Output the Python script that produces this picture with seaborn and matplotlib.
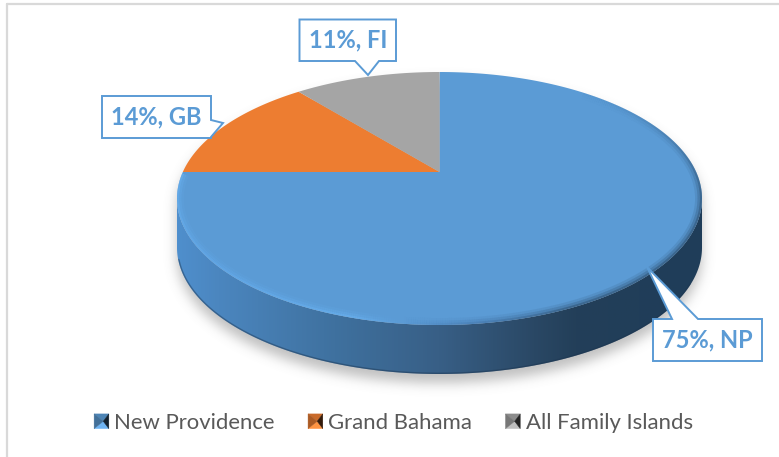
import numpy as np
import matplotlib
matplotlib.use('Agg')
import matplotlib.pyplot as plt
import seaborn as sns
from matplotlib.collections import LineCollection
from matplotlib.colors import LinearSegmentedColormap, to_rgb
from matplotlib.legend_handler import HandlerPatch
from matplotlib.patches import Patch, Polygon
from matplotlib.path import Path
from matplotlib.transforms import Affine2D, Transform

# data
regions = ['New Providence', 'Grand Bahama', 'All Family Islands']
shares = [75, 14, 11]
callouts = ['75%, NP', '14%, GB', '11%, FI']
slice_colors = ['#5b9bd5', '#ed7d31', '#a5a5a5']

sns.set_theme(style='white')
plt.rcParams['font.family'] = ['Lato', 'DejaVu Sans']

# disc geometry in pixels (y down)
CX, CY, RX, RY = 439.5, 198.5, 262.5, 126.5
APEX_Y = 172.0
DEPTH = 49.0


class TiltTransform(Transform):
    # projective map of the unit circle onto the tilted top face
    input_dims = output_dims = 2

    def transform_non_affine(self, values):
        v = np.asarray(values, dtype=float)
        top, bottom = CY - RY, CY + RY
        q = bottom - APEX_Y
        a = 1 - 2 * q / (bottom - top)
        k = RX * np.sqrt(1 - a ** 2)
        d = 1 - a * v[:, 1]
        return np.column_stack([CX + k * v[:, 0] / d, bottom - q * (1 + v[:, 1]) / d])

    def transform_path_non_affine(self, path):
        # flatten the bezier arcs first, control points do not survive this map
        big = path.transformed(Affine2D().scale(2000))
        poly = big.to_polygons(closed_only=False)[0] / 2000
        return Path(self.transform_non_affine(poly), closed=False)


def ellipse_arc(t0, t1, dy=0.0, n=300):
    t = np.linspace(t0, t1, n)
    return np.column_stack([CX + RX * np.cos(t), CY + dy + RY * np.sin(t)])


class PyramidHandler(HandlerPatch):
    # bevelled legend square, four shaded triangles
    def create_artists(self, legend, orig, xd, yd, w, h, fs, trans):
        col = np.array(to_rgb(orig.get_facecolor()))
        s = 10.6
        x0, y0 = -xd + (w - s) / 2, -yd + (h - s) / 2
        c = (x0 + s * 0.62, y0 + s / 2)
        a, b, d, e = (x0, y0), (x0 + s, y0), (x0 + s, y0 + s), (x0, y0 + s)
        parts = [((a, b, c), col * 1.08 + 0.05), ((e, d, c), col * 0.85),
                 ((a, e, c), col * 0.72), ((b, d, c), col * 0.22)]
        artists = []
        for p, f in parts:
            f = np.clip(f, 0, 1)
            artists.append(Polygon(p, closed=True, fc=f, ec=f, lw=0.3, transform=trans))
        return artists


fig = plt.figure(figsize=(7.79, 4.57), dpi=100)
ax = fig.add_axes([0, 0, 1, 1])

# soft shadow under the disc, a blurred mask of the silhouette
gx, gy = np.meshgrid(np.arange(779) + 0.5, np.arange(457) + 0.5)
shadow_y = gy - 9
ex = ((gx - CX) / RX) ** 2
inside = (ex + ((shadow_y - CY) / RY) ** 2 <= 1) | (ex + ((shadow_y - CY - DEPTH) / RY) ** 2 <= 1)
inside |= (np.abs(gx - CX) <= RX) & (shadow_y >= CY) & (shadow_y <= CY + DEPTH)
kernel = np.exp(-0.5 * (np.arange(-18, 19) / 6.0) ** 2)
kernel /= kernel.sum()
blur = inside.astype(float)
blur = np.apply_along_axis(lambda r: np.convolve(r, kernel, mode='same'), 0, blur)
blur = np.apply_along_axis(lambda r: np.convolve(r, kernel, mode='same'), 1, blur)
shadow = np.zeros((457, 779, 4))
shadow[..., :3] = 0.45
shadow[..., 3] = blur * 0.45
ax.imshow(shadow, aspect='auto', zorder=1, extent=(0, 779, 457, 0))

# side wall with horizontal gradient
body = np.vstack([ellipse_arc(0, np.pi, dy=DEPTH), ellipse_arc(np.pi, 0)])
stops = [(0.00, '#4f8fcd'), (0.08, '#4b86bf'), (0.30, '#3f719f'), (0.50, '#385f86'),
         (0.68, '#2a4865'), (0.76, '#233f59'), (1.00, '#1f3d59')]
grad = LinearSegmentedColormap.from_list('side', stops)
img = ax.imshow(np.linspace(0, 1, 512)[None, :], cmap=grad, aspect='auto', zorder=2,
                extent=(CX - RX - 1, CX + RX + 1, CY + RY + DEPTH + 1, CY - 2))
body_clip = Polygon(body, closed=True, transform=ax.transData)
img.set_clip_path(body_clip)
edge, = ax.plot(*ellipse_arc(0.3, np.pi - 0.1, dy=DEPTH).T, color='#1c3550', lw=2.0, alpha=0.45, zorder=2.5)
edge.set_clip_path(body_clip)

# pie slices from the values, bent onto the tilted face
wedges, _ = ax.pie(shares, colors=slice_colors, startangle=90, counterclock=False,
                   radius=1, frame=True, wedgeprops={'linewidth': 0, 'zorder': 3})
tilt = TiltTransform()
for w in wedges:
    w.set_transform(tilt + ax.transData)

# bevel along the rim of the top face
t_rim = np.linspace(np.pi + 0.2, -1.0, 500)
rim_t = [-1.0, -0.5, 0.0, 0.5, 1.05, 1.45, 1.9, 2.6, np.pi + 0.2]
rim_r = [0x4a, 0x30, 0x27, 0x27, 0x27, 0x44, 0x6c, 0x66, 0x6c]
rim_g = [0x7c, 0x55, 0x44, 0x44, 0x44, 0x74, 0xb6, 0xae, 0xb6]
rim_b = [0xac, 0x78, 0x60, 0x60, 0x60, 0xa8, 0xf6, 0xf0, 0xf6]
rim_rgb = np.column_stack([np.interp(t_rim, rim_t, c) for c in (rim_r, rim_g, rim_b)]) / 255
pts = ellipse_arc(t_rim[0], t_rim[-1], n=500)
segs = np.stack([pts[:-1], pts[1:]], axis=1)
face_clip = Polygon(ellipse_arc(0, 2 * np.pi), closed=True, transform=ax.transData)
for lw, alpha in [(10.0, 0.12), (6.5, 0.22), (3.0, 0.40)]:
    # fade the dark edge out as it climbs the top right
    fade = np.clip(t_rim[:-1] + 1.0, 0, 1) * alpha
    lc = LineCollection(segs, colors=np.column_stack([rim_rgb[:-1], fade]),
                        linewidths=lw, zorder=4, capstyle='butt')
    ax.add_collection(lc)
    lc.set_clip_path(face_clip)

# callouts: label, box, pointer, corner the pointer follows
BLUE = '#5b9bd5'
boxes = [
    (callouts[0], (653, 762, 319, 361), [(672, 319), (647, 267), (698, 319)], 1),
    (callouts[1], (102, 211, 96, 138), [(211, 120), (223, 123), (211, 137)], 2),
    (callouts[2], (299.5, 396, 19.5, 61), [(379, 61), (368, 75), (355, 61)], 3),
]
for label, (x0, x1, y0, y1), tip, after in boxes:
    corners = [(x0, y0), (x1, y0), (x1, y1), (x0, y1)]
    ax.add_patch(Polygon(corners[:after] + tip + corners[after:], closed=True, fc='white',
                         ec=BLUE, lw=1.4, zorder=6, joinstyle='miter'))
    ax.text((x0 + x1) / 2, (y0 + y1) / 2, label, color=BLUE, fontsize=17, fontweight='bold',
            ha='center', va='center', zorder=7)

# legend
handles = [Patch(facecolor=c, label=r) for c, r in zip(slice_colors, regions)]
ax.legend(handles=handles, loc='center', bbox_to_anchor=(393.5 / 779, 1 - 423 / 457),
          bbox_transform=ax.transAxes, ncol=3, frameon=False, fontsize=15.9,
          labelcolor='#595959', handler_map={Patch: PyramidHandler()},
          handlelength=0.67, handleheight=0.7, handletextpad=0.25, columnspacing=1.5)

# chart frame, only top and left survive the crop
ax.plot([7.5, 779], [3.5, 3.5], color='#d9d9d9', lw=1.6, zorder=1)
ax.plot([7.5, 7.5], [3.5, 456.5], color='#d9d9d9', lw=1.6, zorder=1)

ax.set_aspect('auto')
ax.set_xlim(0, 779)
ax.set_ylim(457, 0)
ax.axis('off')

fig.savefig('out.png', dpi=100)
